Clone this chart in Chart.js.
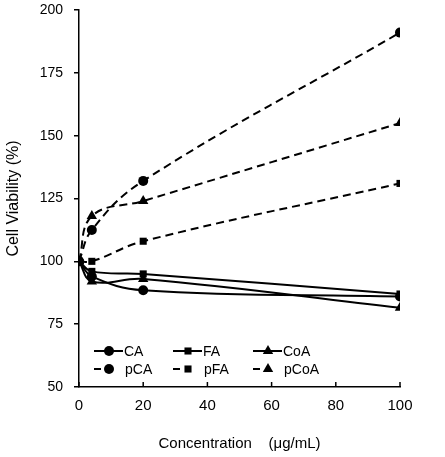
<!DOCTYPE html>
<html>
<head>
<meta charset="utf-8">
<script src="https://cdn.jsdelivr.net/npm/chart.js@4/dist/chart.umd.min.js"></script>
<style>
  html, body { margin: 0; padding: 0; background: #fff; }
  #wrap { width: 445px; height: 457px; }
</style>
</head>
<body>
<div id="wrap"><canvas id="viabChart"></canvas></div>
<script>
// Concentration (ug/mL) and viability (%) per compound
const conc = [0, 4, 20, 100];
const CA   = [100, 94, 88.5, 86];
const FA   = [100, 96, 95, 87];
const CoA  = [100, 92, 93, 81.5];
const pCA  = [100, 112.5, 132, 191];
const pFA  = [100, 100, 108, 131];
const pCoA = [100, 118, 124, 155];
const xTicks = [0, 20, 40, 60, 80, 100];
const yTicks = [50, 75, 100, 125, 150, 175, 200];

const font = 'Liberation Sans, Arial, sans-serif';

function series(label, vals, shape, dashed) {
  return {
    label: label,
    data: conc.map((c, i) => ({ x: c, y: vals[i] })),
    borderColor: '#000',
    backgroundColor: '#000',
    borderWidth: 2,
    borderDash: dashed ? [8, 5] : [],
    pointStyle: shape,
    pointRadius: shape === 'triangle' ? 6 : 5,
    pointBorderWidth: 0,
    tension: 0.4,
    fill: false
  };
}

// legend drawn inside the plot area (3 columns, 2 rows)
const insideLegend = {
  id: 'insideLegend',
  afterDraw(chart) {
    const c = chart.ctx;
    const cols = [94, 173, 253];
    const rows = [351, 369];
    c.save();
    chart.data.datasets.forEach((ds, i) => {
      const col = i % 3, row = Math.floor(i / 3);
      const x = cols[col], y = rows[row];
      c.strokeStyle = '#000';
      c.lineWidth = 2;
      c.setLineDash([]);
      c.beginPath();
      c.moveTo(x, y);
      c.lineTo(row === 0 ? x + 29 : x + 7, y);
      c.stroke();
      Chart.helpers.drawPoint(c, { pointStyle: ds.pointStyle, radius: ds.pointRadius, borderWidth: 0 }, x + 15, y);
      c.fillStyle = '#000';
      c.font = '14px ' + font;
      c.textBaseline = 'middle';
      c.fillText(ds.label, row === 0 ? x + 30 : x + 31, y + 1);
    });
    // inward ticks on the x axis
    const xs = chart.scales.x;
    const bottom = chart.chartArea.bottom;
    c.lineWidth = 1.5;
    xTicks.forEach(v => {
      const px = xs.getPixelForValue(v);
      c.beginPath(); c.moveTo(px, bottom); c.lineTo(px, bottom - 5); c.stroke();
    });
    c.restore();
  }
};

const ctx = document.getElementById('viabChart').getContext('2d');
Chart.defaults.font.family = font;
Chart.defaults.color = '#000';
new Chart(ctx, {
  type: 'line',
  data: {
    datasets: [
      series('CA', CA, 'circle', false),
      series('FA', FA, 'rect', false),
      series('CoA', CoA, 'triangle', false),
      series('pCA', pCA, 'circle', true),
      series('pFA', pFA, 'rect', true),
      series('pCoA', pCoA, 'triangle', true)
    ]
  },
  options: {
    responsive: true,
    maintainAspectRatio: false,
    animation: false,
    layout: { padding: { top: 10, right: 45, left: 0, bottom: 0 } },
    plugins: { legend: { display: false }, tooltip: { enabled: false } },
    scales: {
      x: {
        type: 'linear',
        min: 0, max: 100,
        afterBuildTicks: s => { s.ticks = xTicks.map(v => ({ value: v })); },
        afterFit: s => { s.height = 70; s.paddingLeft = 0; s.paddingRight = 0; },
        grid: { display: false, drawTicks: false },
        border: { color: '#000', width: 1.5 },
        ticks: { font: { size: 15 }, padding: 10, maxRotation: 0 },
        title: { display: true, text: 'Concentration    (\u03bcg/mL)', font: { size: 15 }, padding: { top: 10 } }
      },
      y: {
        min: 50, max: 200,
        afterBuildTicks: s => { s.ticks = yTicks.map(v => ({ value: v })); },
        afterFit: s => { s.width = 79; s.paddingTop = 0; s.paddingBottom = 0; },
        grid: { drawOnChartArea: false, tickLength: 5, color: '#000', lineWidth: 1.5 },
        border: { color: '#000', width: 1.5 },
        ticks: { font: { size: 14 }, padding: 11 },
        title: { display: true, text: 'Cell Viability (%)', font: { size: 16 }, padding: { bottom: 0 } }
      }
    }
  },
  plugins: [insideLegend]
});
</script>
</body>
</html>
